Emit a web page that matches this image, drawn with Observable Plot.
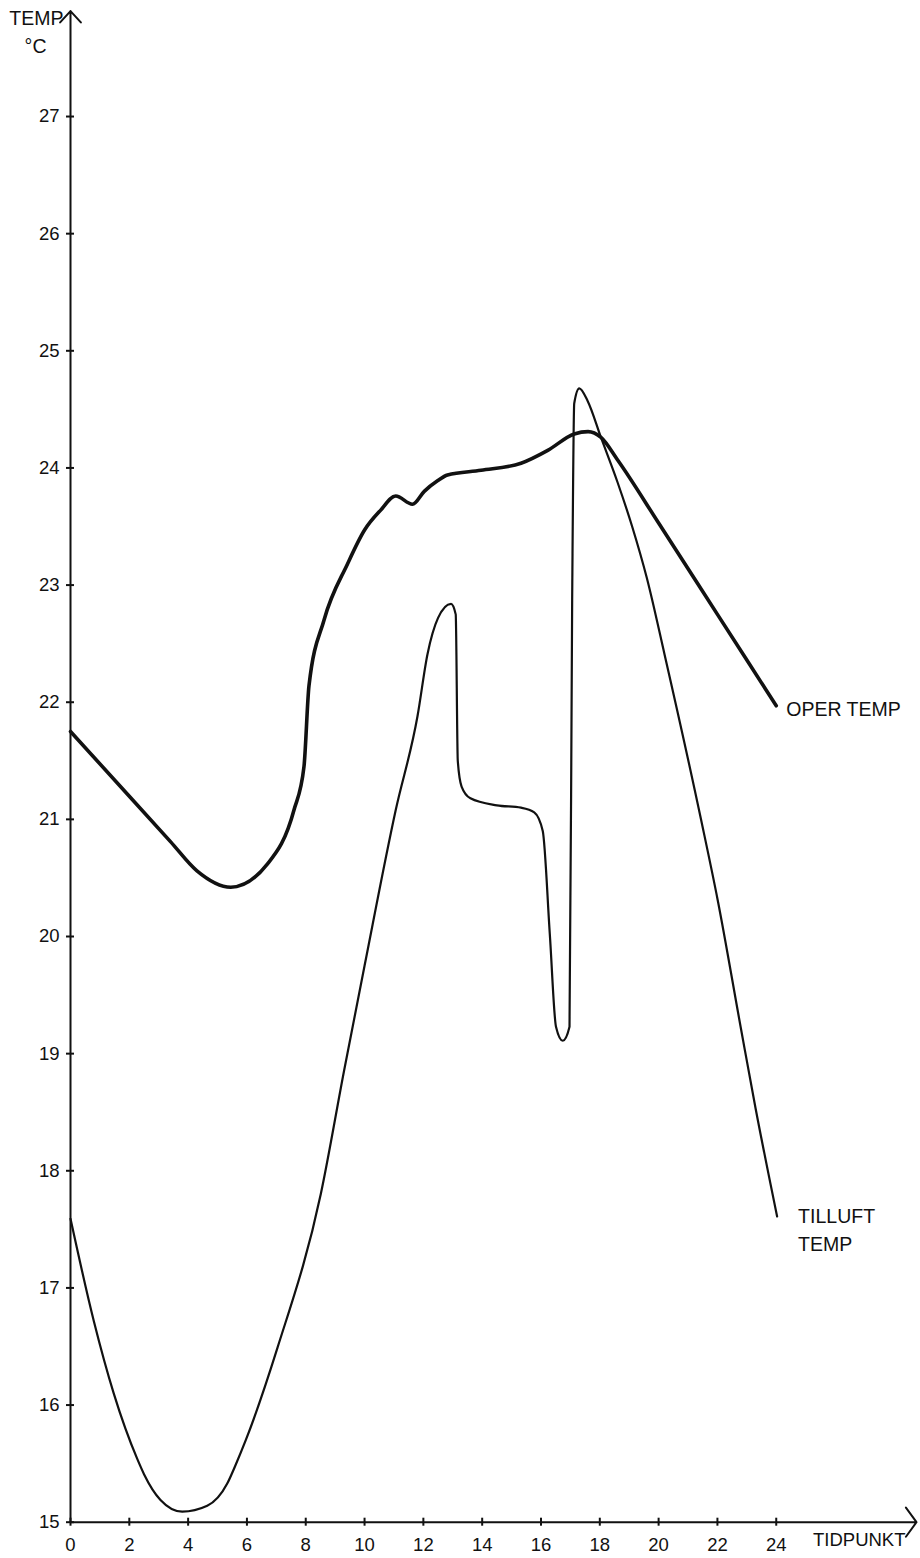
<!DOCTYPE html>
<html>
<head>
<meta charset="utf-8">
<script src="https://cdn.jsdelivr.net/npm/d3@7"></script>
<script src="https://cdn.jsdelivr.net/npm/@observablehq/plot@0.6"></script>
<style>
  html, body { margin: 0; padding: 0; background: #fff; }
  svg { display: block; }
</style>
</head>
<body>
<div id="chart"></div>
<script>
// Operative temperature over the day (hour, °C)
const operHours = [0, 2.1, 3.4, 4.3, 5.45, 6.7, 7.6, 7.94, 8.11, 8.62, 9.42, 10.0, 10.55, 11.06, 11.63, 12.03, 12.48, 12.82, 13.96, 15.32, 16.23, 17.13, 17.6, 18.04, 18.6, 20.0, 22.0, 24.0];
const operTemp  = [21.75, 21.17, 20.81, 20.56, 20.42, 20.62, 21.08, 21.45, 22.14, 22.70, 23.18, 23.47, 23.64, 23.76, 23.69, 23.80, 23.89, 23.94, 23.98, 24.04, 24.15, 24.29, 24.31, 24.26, 24.07, 23.53, 22.75, 21.97];

// Supply-air temperature over the day (hour, °C)
const tilluftHours = [0, 0.79, 1.47, 2.27, 2.5, 3.06, 3.8, 4.65, 5.33, 5.6, 5.96, 7.04, 8.51, 9.3, 10.0, 11.06, 11.8, 12.14, 12.5, 12.94, 13.1, 13.17, 13.3, 13.6, 14.5, 15.32, 15.77, 16.06, 16.3, 16.51, 16.74, 16.97, 17.06, 17.13, 17.3, 17.59, 18.04, 18.6, 19.1, 19.6, 20.2, 21.45, 22.01, 22.81, 23.3, 24.03];
const tilluftTemp  = [17.59, 16.72, 16.10, 15.54, 15.41, 15.19, 15.09, 15.14, 15.33, 15.48, 15.70, 16.49, 17.80, 18.85, 19.75, 21.08, 21.88, 22.41, 22.72, 22.84, 22.75, 21.5, 21.28, 21.18, 21.12, 21.10, 21.06, 20.9, 20.02, 19.23, 19.11, 19.23, 22.87, 24.55, 24.68, 24.57, 24.26, 23.88, 23.5, 23.06, 22.41, 20.99, 20.31, 19.2, 18.53, 17.61];

// Axis ticks and extents
const hourTicks = [0, 2, 4, 6, 8, 10, 12, 14, 16, 18, 20, 22, 24];
const tempTicks = [15, 16, 17, 18, 19, 20, 21, 22, 23, 24, 25, 26, 27];
const hourMax = 28.77;
const tempMin = 15;
const tempMax = 27.9;

const oper = operHours.map((h, i) => ({h, t: operTemp[i]}));
const tilluft = tilluftHours.map((h, i) => ({h, t: tilluftTemp[i]}));

const ink = "#111";

const chart = Plot.plot({
  width: 920,
  height: 1558,
  marginLeft: 70,
  marginRight: 4,
  marginTop: 10.6,
  marginBottom: 36.3,
  x: {domain: [0, hourMax]},
  y: {domain: [tempMin, tempMax]},
  style: {fontFamily: "'Liberation Sans', Arial, sans-serif", fontSize: "18.5px", color: ink, background: "#fff"},
  marks: [
    // axes with arrowheads
    Plot.arrow([{x1: 0, y1: tempMin, x2: hourMax, y2: tempMin}], {
      x1: "x1", y1: "y1", x2: "x2", y2: "y2",
      stroke: ink, strokeWidth: 2, headAngle: 108, headLength: 13.5
    }),
    Plot.arrow([{x1: 0, y1: tempMin, x2: 0, y2: tempMax}], {
      x1: "x1", y1: "y1", x2: "x2", y2: "y2",
      stroke: ink, strokeWidth: 2, headAngle: 85, headLength: 11.5
    }),
    Plot.axisX({
      ticks: hourTicks, tickSize: 8, dy: -4, tickPadding: 12,
      label: null, strokeWidth: 2, fontSize: 18.5
    }),
    Plot.axisY({
      ticks: tempTicks, tickSize: 8, dx: 4, tickPadding: 7,
      label: null, strokeWidth: 2, fontSize: 18.5
    }),
    // axis titles
    Plot.text(["TEMP"], {frameAnchor: "top-left", textAnchor: "end", lineAnchor: "top", dx: -7, dy: 0, fontSize: 19.5}),
    Plot.text(["°C"], {frameAnchor: "top-left", textAnchor: "end", lineAnchor: "top", dx: -24, dy: 28, fontSize: 19.5}),
    Plot.text(["TIDPUNKT"], {frameAnchor: "bottom-right", textAnchor: "end", lineAnchor: "top", dx: -11, dy: 11, fontSize: 18.5}),
    // series
    Plot.line(tilluft, {x: "h", y: "t", stroke: ink, strokeWidth: 2.2, curve: "monotone-x"}),
    Plot.line(oper, {x: "h", y: "t", stroke: ink, strokeWidth: 3.6, curve: "monotone-x"}),
    // series labels at line ends
    Plot.text(oper.slice(-1), {x: "h", y: "t", text: () => "OPER TEMP", textAnchor: "start", lineAnchor: "middle", dx: 10, dy: 4, fontSize: 19.5}),
    Plot.text(tilluft.slice(-1), {x: "h", y: "t", text: () => "TILLUFT\nTEMP", textAnchor: "start", lineAnchor: "top", lineHeight: 1.44, dx: 21, dy: -13, fontSize: 19.5})
  ]
});

document.getElementById("chart").appendChild(chart);
</script>
</body>
</html>
